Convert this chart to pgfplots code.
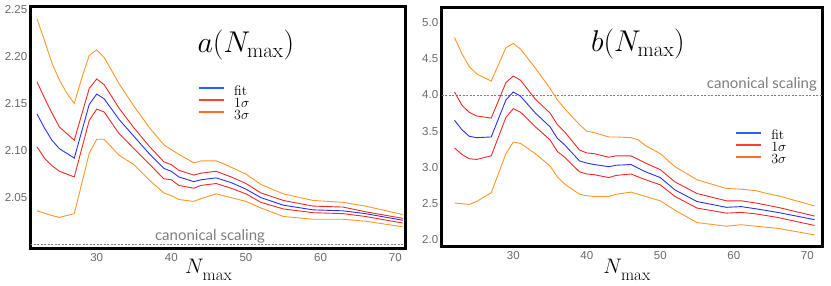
\RequirePackage{fix-cm}
\documentclass[border=0pt]{standalone}
\usepackage{pgfplots}
\pgfplotsset{compat=1.18}
\usepackage{fontspec}
\newfontfamily\tickfont{Liberation Sans}
\newfontfamily\canfont{Lato}

\definecolor{fitblue}{RGB}{40,50,235}
\definecolor{sigred}{RGB}{240,40,40}
\definecolor{sigorange}{RGB}{255,150,40}
\definecolor{legblue}{RGB}{30,100,255}
\definecolor{legred}{RGB}{255,65,50}
\definecolor{legorange}{RGB}{255,110,30}
\definecolor{ticgray}{RGB}{105,105,105}
\definecolor{cangray}{RGB}{125,125,125}

\newcommand{\nmaxlabel}{\fontsize{21}{21}\selectfont$N$\kern-1pt\raisebox{-6.5pt}{\fontsize{17}{17}\selectfont max}}

\pgfplotsset{
  panel/.style={
    scale only axis,
    axis line style={line width=3pt},
    major tick length=0pt,
    tick label style={font=\tickfont\fontsize{11.5}{12}\selectfont, text=ticgray},
    /pgf/number format/assume math mode=true,
    xtick={30,40,50,60,70},
    xticklabel style={yshift=-2pt},
    every axis plot/.append style={line width=0.9pt},
    legend cell align=left,
    legend style={draw=none, fill=none, font=\fontsize{14}{14}\selectfont,
      row sep=0pt, anchor=north west, inner sep=0pt,
      nodes={inner sep=0pt, text height=9.8pt, text depth=2.2pt},
      /tikz/every odd column/.append style={column sep=9pt}},
    legend image code/.code={\draw[line width=2pt] (0pt,3.5pt) -- (25pt,3.5pt);},
    xlabel style={anchor=north, inner sep=0pt},
  },
}

\begin{document}
\begin{tikzpicture}
\path (0,0) rectangle (831pt,285pt);

% ---- left panel: a(N_max)
\begin{axis}[panel,
  at={(30.7pt,37pt)}, anchor=south west,
  width=374.3pt, height=241.3pt,
  xmin=21.16, xmax=71.3, ymin=1.9965, ymax=2.2528,
  ytick={2.05,2.10,...,2.25},
  yticklabel style={/pgf/number format/.cd, fixed, fixed zerofill, precision=2},
  xlabel={\nmaxlabel},
  xlabel style={at={(axis description cs:0.475,0)}, yshift=-11pt},
  legend style={at={(axis description cs:0.447,0.675)}},
]
\addplot[cangray, line width=0.6pt, dash pattern=on 2pt off 1.5pt, forget plot]
  coordinates {(15,2.0) (80,2.0)};
% 3 sigma upper
\addplot[sigorange, forget plot] coordinates {
(22,2.240) (23,2.217) (24,2.193) (25,2.175) (26,2.161) (27,2.150) (28,2.177) (29,2.201)
(30,2.207) (31,2.199) (33,2.171) (35,2.147) (37,2.125) (39,2.106) (41,2.096) (43,2.087)
(44,2.089) (46,2.089) (47,2.086) (50,2.075) (52,2.064) (55,2.054) (59,2.047) (63,2.045)
(66,2.041) (71,2.032)};
% 1 sigma upper
\addplot[sigred, forget plot] coordinates {
(22,2.173) (23,2.156) (24,2.140) (25,2.125) (26,2.118) (27,2.111) (29,2.166) (30,2.176)
(31,2.170) (33,2.145) (35,2.124) (37,2.105) (39,2.088) (40,2.085) (41,2.079) (43,2.074)
(44,2.076) (46,2.078) (48,2.072) (50,2.065) (52,2.055) (55,2.047) (59,2.041) (63,2.040)
(66,2.035) (71,2.028)};
% fit
\addplot[fitblue, forget plot] coordinates {
(22,2.139) (23,2.124) (24,2.111) (25,2.102) (27,2.092) (29,2.149) (30,2.160) (31,2.155)
(33,2.133) (35,2.115) (37,2.097) (39,2.081) (40,2.078) (41,2.072) (43,2.067) (44,2.069)
(46,2.071) (48,2.066) (50,2.059) (52,2.050) (55,2.042) (59,2.037) (63,2.036) (66,2.033)
(71,2.026)};
% 1 sigma lower
\addplot[sigred, forget plot] coordinates {
(22,2.104) (23,2.092) (24,2.084) (25,2.078) (27,2.072) (29,2.132) (30,2.144) (31,2.141)
(33,2.118) (35,2.102) (37,2.086) (39,2.070) (40,2.069) (41,2.063) (43,2.060) (44,2.063)
(46,2.065) (48,2.060) (50,2.054) (52,2.045) (55,2.038) (59,2.034) (63,2.033) (66,2.030)
(71,2.023)};
% 3 sigma lower
\addplot[sigorange, forget plot] coordinates {
(22,2.036) (24,2.031) (25,2.029) (26,2.031) (27,2.033) (29,2.097) (30,2.112) (31,2.112)
(33,2.095) (35,2.085) (37,2.069) (39,2.055) (40,2.052) (41,2.048) (43,2.046) (44,2.049)
(46,2.054) (48,2.050) (50,2.046) (52,2.039) (55,2.030) (59,2.027) (63,2.027) (66,2.025)
(71,2.019)};
\addlegendimage{legblue}\addlegendentry{fit}
\addlegendimage{legred}\addlegendentry{$1\sigma$}
\addlegendimage{legorange}\addlegendentry{$3\sigma$}
\node[font=\fontsize{30}{32}\selectfont] at (axis description cs:0.575,0.841) {$a(N_{\max})$};
\node[font=\canfont\fontsize{15}{16}\selectfont, text=cangray, anchor=base, inner sep=0pt]
  at (axis description cs:0.479,0.033) {canonical scaling};
\end{axis}

% ---- right panel: b(N_max)
\begin{axis}[panel,
  at={(441.7pt,39pt)}, anchor=south west,
  width=381pt, height=238.7pt,
  xmin=20.26, xmax=72.1, ymin=1.917, ymax=5.207,
  ytick={2.0,2.5,...,5.0},
  yticklabel style={/pgf/number format/.cd, fixed, fixed zerofill, precision=1},
  xlabel={\nmaxlabel},
  xlabel style={at={(axis description cs:0.486,0)}, yshift=-13pt},
  legend style={at={(axis description cs:0.77,0.486)}},
]
\addplot[cangray, line width=0.6pt, dash pattern=on 2pt off 1.5pt, forget plot]
  coordinates {(15,4.0) (80,4.0)};
% 3 sigma upper
\addplot[sigorange, forget plot] coordinates {
(22,4.79) (23,4.57) (24,4.39) (25,4.29) (27,4.19) (29,4.65) (30,4.71) (31,4.63) (33,4.37)
(35,4.09) (36,3.93) (37,3.81) (39,3.59) (40,3.50) (41,3.48) (43,3.42) (44,3.42) (46,3.41)
(47,3.38) (48,3.30) (50,3.19) (52,3.01) (55,2.83) (59,2.71) (61,2.70) (63,2.68) (65,2.63)
(66,2.61) (71,2.47)};
% 1 sigma upper
\addplot[sigred, forget plot] coordinates {
(22,4.04) (23,3.86) (24,3.76) (25,3.71) (27,3.68) (29,4.17) (30,4.26) (31,4.20) (33,3.94)
(35,3.75) (36,3.59) (37,3.49) (39,3.24) (40,3.20) (41,3.19) (43,3.14) (44,3.16) (46,3.16)
(48,3.06) (50,2.97) (52,2.80) (55,2.64) (59,2.54) (61,2.54) (63,2.51) (66,2.45) (71,2.33)};
% fit
\addplot[fitblue, forget plot] coordinates {
(22,3.65) (23,3.52) (24,3.43) (25,3.41) (27,3.42) (29,3.93) (30,4.04) (31,3.98) (33,3.75)
(35,3.56) (36,3.40) (37,3.31) (39,3.09) (40,3.06) (41,3.04) (43,3.01) (44,3.03) (46,3.04)
(48,2.94) (50,2.86) (52,2.69) (55,2.53) (59,2.45) (61,2.46) (63,2.43) (66,2.38) (71,2.28)};
% 1 sigma lower
\addplot[sigred, forget plot] coordinates {
(22,3.27) (23,3.18) (24,3.12) (25,3.11) (27,3.16) (29,3.69) (30,3.81) (31,3.76) (33,3.56)
(35,3.38) (36,3.22) (37,3.14) (39,2.94) (40,2.91) (41,2.90) (43,2.86) (44,2.89) (46,2.91)
(48,2.83) (50,2.76) (52,2.60) (55,2.44) (59,2.37) (61,2.38) (63,2.36) (66,2.31) (71,2.20)};
% 3 sigma lower
\addplot[sigorange, forget plot] coordinates {
(22,2.51) (24,2.49) (25,2.53) (27,2.65) (29,3.19) (30,3.35) (31,3.33) (33,3.19) (35,3.02)
(36,2.87) (37,2.77) (39,2.63) (40,2.61) (41,2.60) (43,2.60) (44,2.63) (46,2.66) (48,2.60)
(50,2.54) (52,2.41) (55,2.24) (59,2.19) (61,2.21) (63,2.19) (66,2.16) (71,2.07)};
\addlegendimage{legblue}\addlegendentry{fit}
\addlegendimage{legred}\addlegendentry{$1\sigma$}
\addlegendimage{legorange}\addlegendentry{$3\sigma$}
\node[font=\fontsize{30}{32}\selectfont] at (axis description cs:0.515,0.846) {$b(N_{\max})$};
\node[font=\canfont\fontsize{15}{16}\selectfont, text=cangray, anchor=base east, inner sep=0pt]
  at (axis description cs:0.985,0.661) {canonical scaling};
\end{axis}
\end{tikzpicture}
\end{document}
